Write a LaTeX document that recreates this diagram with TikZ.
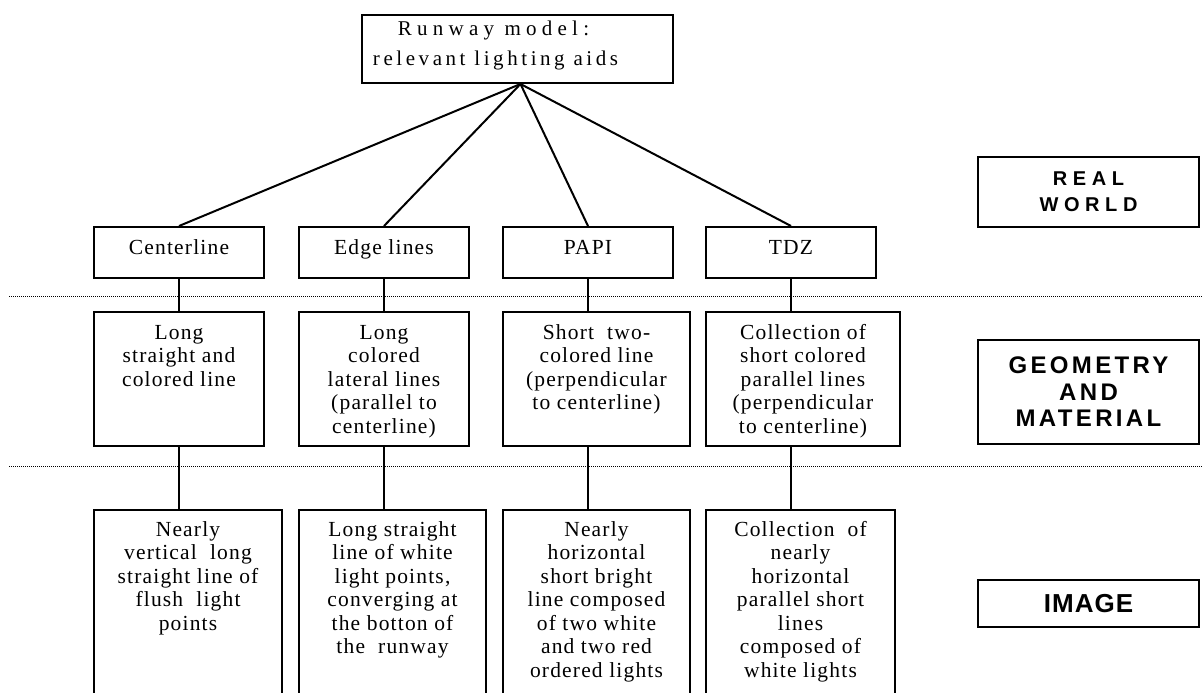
\documentclass[tikz,border=0pt]{standalone}
\usepackage{fontspec}
\setmainfont{Liberation Serif}
\newfontfamily\aidfont[LetterSpace=5.5]{Liberation Serif}
\newfontfamily\rwyfont[LetterSpace=17]{Liberation Serif}
\newfontfamily\layerfont{Liberation Sans}
\def\largeur{1203}
\def\hauteur{693}
% box text: [strut] {width} {height} {lines}
\newcommand\aidtext[4][27]{\parbox[c][#3pt][t]{#2pt}{\centering\rule{0pt}{#1pt}#4}}

\begin{document}
\begin{tikzpicture}[x=1pt, y=1pt,
  aid/.style={draw, line width=2pt, inner sep=0pt, anchor=north west,
    font=\aidfont\fontsize{21.5}{23.5}\selectfont},
  layer/.style={draw, line width=2pt, anchor=north west, align=center,
    minimum width=221pt},
  link/.style={line width=2pt},
  sep/.style={line width=1pt, dash pattern=on 1pt off 1pt}]
\useasboundingbox (0,0) rectangle (\largeur,-\hauteur);
\clip (0,0) rectangle (\largeur,-\hauteur);
%\draw[step=50pt, black!20] (0,-\hauteur) grid (\largeur,0);

% layer separators
\draw[sep] (9,-296) -- (\largeur,-296);
\draw[sep] (9,-466) -- (\largeur,-466);

% runway model
\node[aid, font=\rwyfont\fontsize{21}{30}\selectfont] (rwy) at (361,-14)
  {\aidtext[21]{311}{68}{{\addfontfeature{LetterSpace=25}Runway model:}\rule{48pt}{0pt}\\
   relevant lighting aids\rule{44pt}{0pt}}};

% real world
\node[aid] (cl)   at (93,-226)  {\aidtext{170}{51}{Centerline}};
\node[aid] (el)   at (298,-226) {\aidtext{170}{51}{Edge lines}};
\node[aid] (papi) at (502,-226) {\aidtext{170}{51}{PAPI}};
\node[aid] (tdz)  at (705,-226) {\aidtext{170}{51}{TDZ}};

% geometry and material
\node[aid] (geoC) at (93,-311)  {\aidtext{170}{134}{Long\\straight and\\colored line}};
\node[aid] (geoE) at (298,-311) {\aidtext{170}{134}{Long\\colored\\lateral lines\\(parallel to\\centerline)}};
\node[aid] (geoP) at (502,-311) {\aidtext{187}{134}{Short\ \ two-\\colored line\\(perpendicular\\to centerline)}};
\node[aid] (geoT) at (705,-311) {\aidtext{194}{134}{Collection of\\short colored\\parallel lines\\(perpendicular\\to centerline)}};

% image
\node[aid] (imgC) at (93,-509)  {\aidtext[26]{188}{200}{Nearly\\vertical\ \ long\\straight line of\\flush\ \ light\\points}};
\node[aid] (imgE) at (298,-509) {\aidtext[26]{187}{200}{Long straight\\line of white\\light points,\\converging at\\the botton of\\the\ \ runway}};
\node[aid] (imgP) at (502,-509) {\aidtext[26]{187}{200}{Nearly\\horizontal\\short bright\\line composed\\of two white\\and two red\\ordered lights}};
\node[aid] (imgT) at (705,-509) {\aidtext[26]{189}{200}{Collection\ \ of\\nearly\\horizontal\\parallel short\\lines\\composed of\\white lights}};

% layer labels
\node[layer, minimum height=70pt,
  font=\layerfont\bfseries\fontsize{20}{26}\selectfont\addfontfeature{LetterSpace=28}]
  (real) at (977,-156) {REAL\\WORLD};
\node[layer, minimum height=104pt,
  font=\layerfont\bfseries\fontsize{24}{26.5}\selectfont\addfontfeature{LetterSpace=14}]
  (geom) at (977,-339) {GEOMETRY\\AND\\MATERIAL};
\node[layer, minimum height=47pt,
  font=\layerfont\bfseries\fontsize{26}{28}\selectfont\addfontfeature{LetterSpace=4}]
  (imag) at (977,-579) {IMAGE};

% links
\foreach \n in {cl,el,papi,tdz}
  \draw[link] ([xshift=3pt]rwy.south) -- (\n.north);
\foreach \a/\b/\c in {cl/geoC/imgC, el/geoE/imgE, papi/geoP/imgP, tdz/geoT/imgT}{
  \draw[link] (\a.south) -- (\a.south |- \b.north);
  \draw[link] (\a.south |- \b.south) -- (\a.south |- \c.north);
}
\end{tikzpicture}
\end{document}
